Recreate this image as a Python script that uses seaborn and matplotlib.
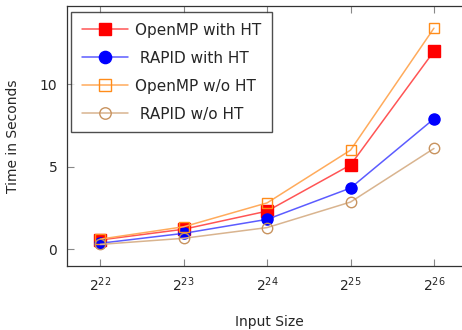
import numpy as np
import pandas as pd
import matplotlib
matplotlib.use("Agg")
import matplotlib.pyplot as plt
import seaborn as sns

# input sizes 2^22 .. 2^26
input_size = [2**22, 2**23, 2**24, 2**25, 2**26]

omp_ht = [0.55, 1.2, 2.3, 5.1, 12.0]
rapid_ht = [0.35, 0.95, 1.8, 3.7, 7.9]
omp_noht = [0.6, 1.35, 2.8, 6.0, 13.4]
rapid_noht = [0.28, 0.65, 1.3, 2.85, 6.1]

labels = ["OpenMP with HT", " RAPID with HT", "OpenMP w/o HT", " RAPID w/o HT"]

sns.set_style("ticks")
plt.rcParams['font.family'] = ['DejaVu Sans']

fig = plt.figure(figsize=(4.62, 3.3), dpi=100)
ax = fig.add_axes([0.145, 0.194, 0.8755, 0.788])

series = [
    (omp_ht, "s", "#ff0000", "#ff5555", True),
    (rapid_ht, "o", "#0000ff", "#5c5cff", True),
    (omp_noht, "s", "#ff8c1a", "#ffab5c", False),
    (rapid_noht, "o", "#c8935f", "#d9b48f", False),
]

for (vals, mk, col, lcol, filled), lab in zip(series, labels):
    df = pd.DataFrame({"size": input_size, "time": vals})
    sns.lineplot(data=df, x="size", y="time", ax=ax, color=lcol, lw=1.1,
                 marker=mk, markersize=8 if filled else 7.5,
                 markerfacecolor=col if filled else "none",
                 markeredgecolor=col, markeredgewidth=1.0, label=lab)

ax.set_xscale("log", base=2)
ax.set_xticks(input_size)
ax.set_xlim(2**21.6, 2**26.45)
ax.set_ylim(-1.03, 14.75)
ax.set_yticks([0, 5, 10])
ax.minorticks_off()
ax.tick_params(direction="in", color="#888888", length=5, top=True, right=True,
               labelsize=10, pad=7)
ax.set_xlabel("Input Size", fontsize=10, labelpad=15)
ax.set_ylabel("Time in Seconds", fontsize=10, labelpad=14)
for s in ax.spines.values():
    s.set_color("#333333")
    s.set_linewidth(0.9)

leg = ax.legend(loc="upper left", bbox_to_anchor=(0.01, 0.977), borderaxespad=0,
                fontsize=11, frameon=True, fancybox=False, edgecolor="#222222",
                handlelength=3, handletextpad=0.5, labelspacing=0.85,
                borderpad=0.7, markerscale=1.1)
leg.get_frame().set_linewidth(1.0)

fig.savefig("out.png", dpi=100)
